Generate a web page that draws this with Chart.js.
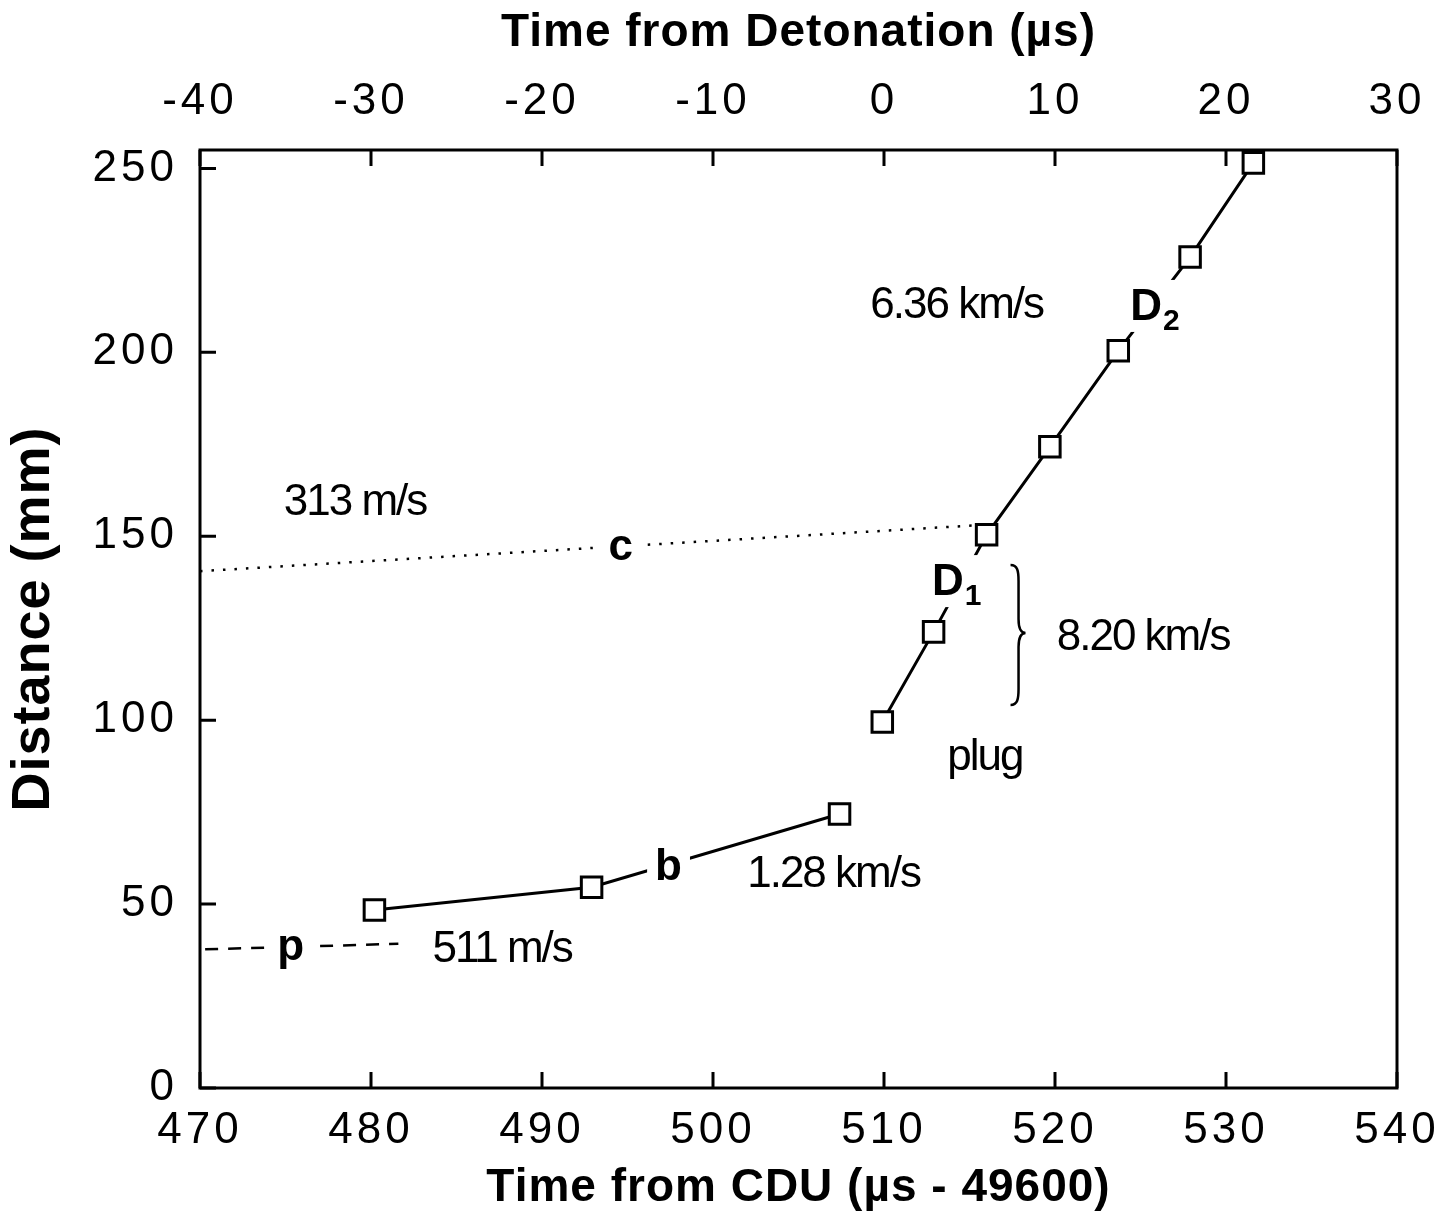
<!DOCTYPE html>
<html>
<head>
<meta charset="utf-8">
<title>Distance vs time</title>
<script src="https://cdn.jsdelivr.net/npm/chart.js@4.4.1/dist/chart.umd.min.js"></script>
<style>
    html, body { margin: 0; padding: 0; background: #fff; }
    #wrap { width: 1444px; height: 1220px; }
</style>
</head>
<body>
<div id="wrap"><canvas id="chart" width="1444" height="1220"></canvas></div>
<script>
// Probe readings, time from CDU (us - 49600) and distance (mm)
const bTime = [480.2, 492.9, 507.4];
const bDist = [48.4, 54.6, 74.5];
const dTime = [509.9, 512.9, 516.0, 519.7, 523.7, 527.9, 531.6];
const dDist = [99.5, 124.0, 150.4, 174.3, 200.4, 225.9, 251.5];

// Fitted trajectories drawn as broken lines
const cTime = [470.0, 515.5];
const cDist = [140.5, 153.0];
const pTime = [470.3, 481.6];
const pDist = [37.7, 39.2];

// Axis ticks
const cduTicks = [470, 480, 490, 500, 510, 520, 530, 540];
const detTicks = [-40, -30, -20, -10, 0, 10, 20, 30];
const distTicks = [0, 50, 100, 150, 200, 250];

const FONT = '"Liberation Sans", Arial, Helvetica, sans-serif';

function toPoints(xs, ys) {
    return xs.map((x, i) => ({ x: x, y: ys[i] }));
}

// Text notes placed in data units (x = time from CDU, y = distance)
const notes = [
    { text: '6.36 km/s', x: 509.2, y: 209.4, bold: false },
    { text: '313 m/s', x: 474.9, y: 155.8, bold: false },
    { text: '8.20 km/s', x: 520.1, y: 119.1, bold: false },
    { text: 'plug', x: 513.7, y: 86.5, bold: false },
    { text: '1.28 km/s', x: 502.0, y: 54.6, bold: false },
    { text: '511 m/s', x: 483.6, y: 34.3, bold: false },
    { text: 'c', x: 494.6, y: 143.6, bold: true, center: true },
    { text: 'b', x: 497.4, y: 56.6, bold: true, center: true },
    { text: 'p', x: 475.3, y: 34.8, bold: true, center: true },
    { text: 'D', sub: '1', x: 512.8, y: 134.0, bold: true },
    { text: 'D', sub: '2', x: 524.4, y: 208.8, bold: true }
];

const framePlugin = {
    id: 'frame',
    beforeDraw(chart) {
        // axis titles (grid layer) get a touch of spacing
        chart.ctx.letterSpacing = '1px';
    },
    beforeDatasetsDraw(chart) {
        const ctx = chart.ctx;
        const a = chart.chartArea;
        const tl = 16;
        ctx.letterSpacing = '0px';
        ctx.save();
        ctx.strokeStyle = '#000';
        ctx.lineWidth = 3;
        ctx.strokeRect(a.left, a.top, a.right - a.left, a.bottom - a.top);
        ctx.beginPath();
        chart.scales.x.ticks.forEach(t => {
            const px = chart.scales.x.getPixelForValue(t.value);
            ctx.moveTo(px, a.bottom);
            ctx.lineTo(px, a.bottom - tl);
        });
        chart.scales.x2.ticks.forEach(t => {
            const px = chart.scales.x2.getPixelForValue(t.value);
            ctx.moveTo(px, a.top);
            ctx.lineTo(px, a.top + tl);
        });
        chart.scales.y.ticks.forEach(t => {
            const py = chart.scales.y.getPixelForValue(t.value);
            ctx.moveTo(a.left, py);
            ctx.lineTo(a.left + tl, py);
        });
        ctx.stroke();
        ctx.restore();
    },
    afterDatasetsDraw(chart) {
        const ctx = chart.ctx;
        const xs = chart.scales.x;
        const ys = chart.scales.y;
        ctx.save();
        ctx.fillStyle = '#000';
        ctx.textBaseline = 'alphabetic';

        notes.forEach(n => {
            let px = xs.getPixelForValue(n.x);
            const py = ys.getPixelForValue(n.y);
            ctx.font = (n.bold ? 'bold 44px ' : '44px ') + FONT;
            ctx.letterSpacing = n.bold ? '0px' : '-2px';
            const w = ctx.measureText(n.text).width;
            if (n.center) px -= w / 2;
            if (n.bold) {
                // white patch so the label breaks the line under it
                let bw = w;
                if (n.sub) {
                    ctx.font = 'bold 30px ' + FONT;
                    bw += ctx.measureText(n.sub).width + 2;
                    ctx.font = 'bold 44px ' + FONT;
                }
                ctx.fillStyle = '#fff';
                ctx.fillRect(px - 8, py - 40, bw + 16, n.text === 'p' ? 58 : 52);
                ctx.fillStyle = '#000';
            }
            ctx.fillText(n.text, px, py);
            if (n.sub) {
                ctx.font = 'bold 30px ' + FONT;
                ctx.fillText(n.sub, px + w + 1, py + 10);
            }
        });

        // curly brace beside the 8.20 km/s segment
        const x0 = xs.getPixelForValue(517.4);
        const yTop = ys.getPixelForValue(142.2);
        const yMid = ys.getPixelForValue(123.7);
        const yBot = ys.getPixelForValue(104.1);
        ctx.strokeStyle = '#000';
        ctx.lineWidth = 2.5;
        ctx.beginPath();
        ctx.moveTo(x0, yTop);
        ctx.bezierCurveTo(x0 + 7, yTop, x0 + 8, yTop + 6, x0 + 8, yTop + 16);
        ctx.lineTo(x0 + 8, yMid - 14);
        ctx.bezierCurveTo(x0 + 8, yMid - 4, x0 + 11, yMid, x0 + 15, yMid);
        ctx.bezierCurveTo(x0 + 11, yMid, x0 + 8, yMid + 4, x0 + 8, yMid + 14);
        ctx.lineTo(x0 + 8, yBot - 16);
        ctx.bezierCurveTo(x0 + 8, yBot - 6, x0 + 7, yBot, x0, yBot);
        ctx.stroke();
        ctx.restore();

        // tick labels are drawn after this hook (ticks.z = 1), spaced out like the original
        ctx.letterSpacing = '4px';
    },
    afterDraw(chart) {
        chart.ctx.letterSpacing = '0px';
    }
};

const tickFont = { family: FONT, size: 44 };
const titleFont = { family: FONT, size: 46, weight: 'bold' };

function fitHorizontal(h) {
    return function (scale) {
        scale.height = h;
        scale.paddingLeft = 0;
        scale.paddingRight = 0;
    };
}

const ctx = document.getElementById('chart').getContext('2d');
new Chart(ctx, {
    type: 'line',
    data: {
        datasets: [
            {
                label: 'b',
                data: toPoints(bTime, bDist),
                borderColor: '#000',
                borderWidth: 3,
                pointStyle: 'rect',
                pointRadius: 14.5,
                pointBorderWidth: 3,
                pointBackgroundColor: '#fff',
                pointBorderColor: '#000',
                xAxisID: 'x',
                yAxisID: 'y'
            },
            {
                label: 'D',
                data: toPoints(dTime, dDist),
                borderColor: '#000',
                borderWidth: 3,
                pointStyle: 'rect',
                pointRadius: 14.5,
                pointBorderWidth: 3,
                pointBackgroundColor: '#fff',
                pointBorderColor: '#000',
                xAxisID: 'x',
                yAxisID: 'y'
            },
            {
                label: 'c',
                data: toPoints(cTime, cDist),
                borderColor: '#000',
                borderWidth: 2.5,
                borderDash: [2.5, 9],
                pointRadius: 0,
                xAxisID: 'x',
                yAxisID: 'y'
            },
            {
                label: 'p',
                data: toPoints(pTime, pDist),
                borderColor: '#000',
                borderWidth: 2.5,
                borderDash: [13, 10],
                pointRadius: 0,
                xAxisID: 'x',
                yAxisID: 'y'
            }
        ]
    },
    options: {
        responsive: false,
        animation: false,
        events: [],
        layout: { padding: { top: 0, right: 47, bottom: 0, left: 0 } },
        scales: {
            x: {
                type: 'linear',
                position: 'bottom',
                min: 470,
                max: 540,
                afterFit: fitHorizontal(132),
                afterBuildTicks(scale) { scale.ticks = cduTicks.map(v => ({ value: v })); },
                grid: { display: false, drawTicks: false },
                border: { display: false },
                ticks: { z: 1, color: '#000', font: tickFont, padding: 16, maxRotation: 0, autoSkip: false },
                title: {
                    display: true,
                    text: 'Time from CDU (\u00b5s - 49600)',
                    color: '#000',
                    font: titleFont,
                    padding: { top: 0, bottom: 4 }
                }
            },
            x2: {
                type: 'linear',
                axis: 'x',
                position: 'top',
                min: -40,
                max: 30,
                afterFit: fitHorizontal(150),
                afterBuildTicks(scale) { scale.ticks = detTicks.map(v => ({ value: v })); },
                grid: { display: false, drawTicks: false },
                border: { display: false },
                ticks: { z: 1, color: '#000', font: tickFont, padding: 22, maxRotation: 0, autoSkip: false },
                title: {
                    display: true,
                    text: 'Time from Detonation (\u00b5s)',
                    color: '#000',
                    font: titleFont,
                    padding: { top: 6, bottom: 0 }
                }
            },
            y: {
                type: 'linear',
                position: 'left',
                min: 0,
                max: 255,
                afterFit(scale) { scale.width = 200; },
                afterBuildTicks(scale) { scale.ticks = distTicks.map(v => ({ value: v })); },
                grid: { display: false, drawTicks: false },
                border: { display: false },
                ticks: { z: 1, color: '#000', font: tickFont, padding: 22, autoSkip: false },
                title: {
                    display: true,
                    text: 'Distance (mm)',
                    color: '#000',
                    font: { family: FONT, size: 54, weight: 'bold' },
                    padding: { top: 2, bottom: 0 }
                }
            }
        },
        plugins: {
            legend: { display: false },
            tooltip: { enabled: false },
            title: { display: false }
        }
    },
    plugins: [framePlugin]
});
</script>
</body>
</html>
